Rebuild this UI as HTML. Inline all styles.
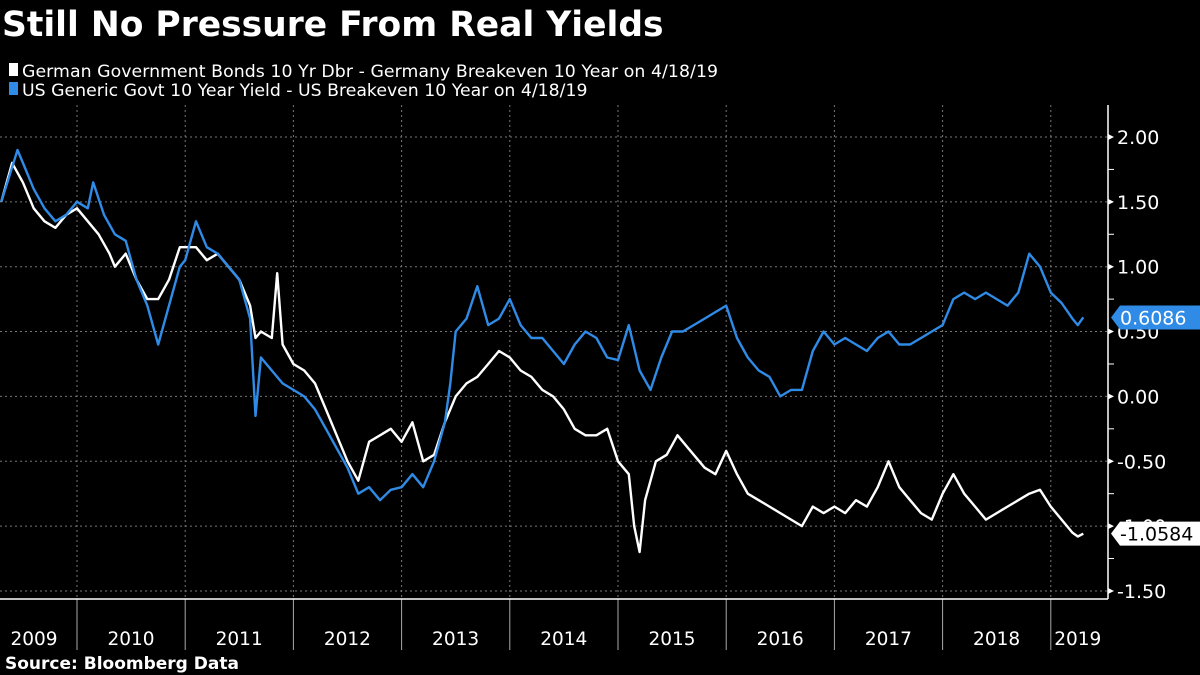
<!DOCTYPE html>
<html><head><meta charset="utf-8"><style>
body{margin:0;background:#000;width:1200px;height:675px;overflow:hidden;font-family:"Liberation Sans","DejaVu Sans",sans-serif;color:#fff}
</style></head><body>
<svg width="1200" height="675" viewBox="0 0 1200 675" id="chart" style="position:absolute;left:0;top:0">
<text x="2" y="36" font-size="34.5" font-weight="bold" fill="#fff" font-family="DejaVu Sans, sans-serif">Still No Pressure From Real Yields</text>
<rect x="9" y="63" width="9" height="13" fill="#fff"/>
<text x="22" y="77" font-size="17.3" fill="#fff" font-family="DejaVu Sans, sans-serif" textLength="696">German Government Bonds 10 Yr Dbr - Germany Breakeven 10 Year on 4/18/19</text>
<rect x="9" y="82" width="9" height="13" fill="#2f8be6"/>
<text x="22" y="96" font-size="17.3" fill="#fff" font-family="DejaVu Sans, sans-serif">US Generic Govt 10 Year Yield - US Breakeven 10 Year on 4/18/19</text>
<g id="grid"></g><g id="axes"></g><g id="series"></g><g id="labels"></g>
<text x="5" y="669" font-size="17" font-weight="bold" fill="#fff" font-family="DejaVu Sans, sans-serif">Source: Bloomberg Data</text>
</svg>
<script>
const yTicks=[2,1.5,1,0.5,0,-0.5,-1,-1.5];
const years=[2009,2010,2011,2012,2013,2014,2015,2016,2017,2018,2019];
const usT=[2009.3,2009.45,2009.5,2009.6,2009.7,2009.8,2009.9,2010.0,2010.1,2010.15,2010.25,2010.35,2010.45,2010.55,2010.65,2010.75,2010.85,2010.95,2011.0,2011.1,2011.2,2011.3,2011.4,2011.5,2011.6,2011.65,2011.7,2011.8,2011.9,2012.0,2012.1,2012.2,2012.3,2012.4,2012.5,2012.6,2012.7,2012.8,2012.9,2013.0,2013.1,2013.2,2013.3,2013.4,2013.45,2013.5,2013.6,2013.7,2013.8,2013.9,2014.0,2014.1,2014.2,2014.3,2014.4,2014.5,2014.6,2014.7,2014.8,2014.9,2015.0,2015.1,2015.2,2015.3,2015.4,2015.5,2015.6,2015.7,2015.8,2015.9,2016.0,2016.1,2016.2,2016.3,2016.4,2016.5,2016.6,2016.7,2016.8,2016.9,2017.0,2017.1,2017.2,2017.3,2017.4,2017.5,2017.6,2017.7,2017.8,2017.9,2018.0,2018.1,2018.2,2018.3,2018.4,2018.5,2018.6,2018.7,2018.75,2018.8,2018.9,2019.0,2019.1,2019.2,2019.25,2019.3];
const usV=[1.5,1.9,1.8,1.6,1.45,1.35,1.4,1.5,1.45,1.65,1.4,1.25,1.2,0.9,0.7,0.4,0.7,1.0,1.05,1.35,1.15,1.1,1.0,0.9,0.6,-0.15,0.3,0.2,0.1,0.05,0.0,-0.1,-0.25,-0.4,-0.55,-0.75,-0.7,-0.8,-0.72,-0.7,-0.6,-0.7,-0.5,-0.2,0.1,0.5,0.6,0.85,0.55,0.6,0.75,0.55,0.45,0.45,0.35,0.25,0.4,0.5,0.45,0.3,0.28,0.55,0.2,0.05,0.3,0.5,0.5,0.55,0.6,0.65,0.7,0.45,0.3,0.2,0.15,0.0,0.05,0.05,0.35,0.5,0.4,0.45,0.4,0.35,0.45,0.5,0.4,0.4,0.45,0.5,0.55,0.75,0.8,0.75,0.8,0.75,0.7,0.8,0.95,1.1,1.0,0.8,0.72,0.6,0.55,0.61];
const deT=[2009.3,2009.4,2009.5,2009.6,2009.7,2009.8,2009.9,2010.0,2010.1,2010.2,2010.3,2010.35,2010.45,2010.55,2010.65,2010.75,2010.85,2010.95,2011.1,2011.2,2011.3,2011.4,2011.5,2011.6,2011.65,2011.7,2011.8,2011.85,2011.9,2012.0,2012.1,2012.2,2012.3,2012.4,2012.5,2012.6,2012.7,2012.8,2012.9,2013.0,2013.1,2013.2,2013.3,2013.4,2013.5,2013.6,2013.7,2013.8,2013.9,2014.0,2014.1,2014.2,2014.3,2014.4,2014.5,2014.6,2014.7,2014.8,2014.9,2015.0,2015.1,2015.15,2015.2,2015.25,2015.35,2015.45,2015.55,2015.65,2015.8,2015.9,2016.0,2016.1,2016.2,2016.3,2016.4,2016.5,2016.6,2016.7,2016.8,2016.9,2017.0,2017.1,2017.2,2017.3,2017.4,2017.5,2017.6,2017.7,2017.8,2017.9,2018.0,2018.1,2018.2,2018.3,2018.4,2018.5,2018.6,2018.7,2018.8,2018.9,2019.0,2019.1,2019.2,2019.25,2019.3];
const deV=[1.5,1.8,1.65,1.45,1.35,1.3,1.4,1.45,1.35,1.25,1.1,1.0,1.1,0.9,0.75,0.75,0.9,1.15,1.15,1.05,1.1,1.0,0.9,0.7,0.45,0.5,0.45,0.95,0.4,0.25,0.2,0.1,-0.1,-0.3,-0.5,-0.65,-0.35,-0.3,-0.25,-0.35,-0.2,-0.5,-0.45,-0.2,0.0,0.1,0.15,0.25,0.35,0.3,0.2,0.15,0.05,0.0,-0.1,-0.25,-0.3,-0.3,-0.25,-0.5,-0.6,-1.0,-1.2,-0.8,-0.5,-0.45,-0.3,-0.4,-0.55,-0.6,-0.42,-0.6,-0.75,-0.8,-0.85,-0.9,-0.95,-1.0,-0.85,-0.9,-0.85,-0.9,-0.8,-0.85,-0.7,-0.5,-0.7,-0.8,-0.9,-0.95,-0.75,-0.6,-0.75,-0.85,-0.95,-0.9,-0.85,-0.8,-0.75,-0.72,-0.85,-0.95,-1.05,-1.08,-1.0584];
const lastUS=0.6086, lastDE=-1.0584;
const NS='http://www.w3.org/2000/svg';
const X=t=>77+(t-2010)*108.2;
const Y=v=>396.4-v*129.7;
const PR=1108, PB=599;
function mk(tag,attrs,parent){const e=document.createElementNS(NS,tag);for(const k in attrs)e.setAttribute(k,attrs[k]);parent.appendChild(e);return e;}
const grid=document.getElementById('grid'),axes=document.getElementById('axes'),ser=document.getElementById('series'),lab=document.getElementById('labels');
yTicks.forEach(v=>{
 const l=mk('line',{x1:0,x2:PR,y1:Y(v),y2:Y(v),stroke:'#777','stroke-width':1,'stroke-dasharray':'2,3'},grid);
 
 
 const tk=mk('path',{d:`M${PR} ${Y(v)-3}L${PR+6} ${Y(v)}L${PR} ${Y(v)+3}Z`,fill:'#fff'},axes);
 
 
 if(v>-1.5){
  const m=mk('line',{x1:PR,x2:PR+6,y1:Y(v-0.25),y2:Y(v-0.25),stroke:'#fff'},axes);
  
  
 }
 const t=mk('text',{x:PR+9,y:Y(v)+7,'font-size':19,fill:'#fff','font-family':'DejaVu Sans, sans-serif'},axes);
 t.textContent=v.toFixed(2);
 
 
});
years.forEach((y,i)=>{
 if(i>0){
  const g=mk('line',{x1:X(y),x2:X(y),y1:105,y2:PB,stroke:'#777','stroke-dasharray':'2,3'},grid);
  
  
  const s=mk('line',{x1:X(y),x2:X(y),y1:PB,y2:650,stroke:'#aaa'},axes);
  
  
 }
 const c=i==years.length-1?X(y)+27:X(y)+54;
 const t=mk('text',{x:Math.max(c,34),y:645,'font-size':18.5,fill:'#fff','text-anchor':'middle','font-family':'DejaVu Sans, sans-serif'},axes);
 t.textContent=y;
 
 
});
const ax=mk('line',{x1:0,x2:PR,y1:PB,y2:PB,stroke:'#fff','stroke-width':1.5},axes);


const ay=mk('line',{x1:PR,x2:PR,y1:105,y2:PB,stroke:'#fff','stroke-width':1.5},axes);


function line(ts,vs,col,name){
 const p=mk('polyline',{points:ts.map((t,i)=>X(t).toFixed(1)+','+Y(vs[i]).toFixed(1)).join(' '),fill:'none',stroke:col,'stroke-width':2.4,'stroke-linejoin':'round'},ser);
 
 
}
line(deT,deV,'#ffffff','germany-line');
line(usT,usV,'#2f8be6','us-line');
function tag(v,bg,fg,name){
 const y=Y(v);
 const p=mk('path',{d:`M${PR+3} ${y}L${PR+12} ${y-12}L1200 ${y-12}L1200 ${y+12}L${PR+12} ${y+12}Z`,fill:bg},lab);
 
 
 const t=mk('text',{x:PR+12,y:y+7,'font-size':19,fill:fg,'font-family':'DejaVu Sans, sans-serif'},lab);
 t.textContent=v.toFixed(4);
 
 
}
tag(lastUS,'#2f8be6','#fff','us-last-value');
tag(lastDE,'#fff','#000','germany-last-value');
</script>
</body></html>
